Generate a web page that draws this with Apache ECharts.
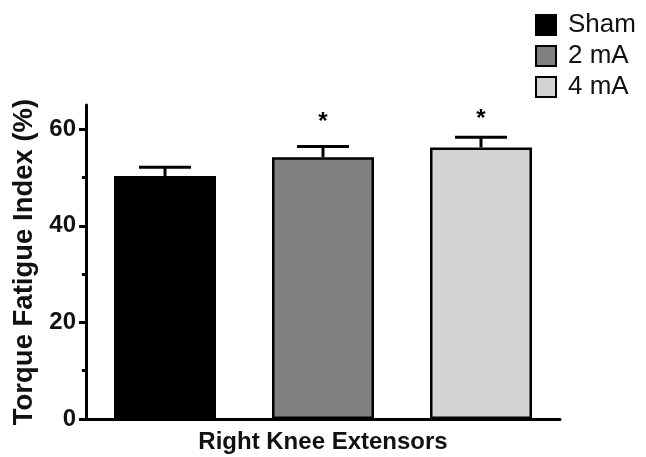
<!DOCTYPE html>
<html><head><meta charset="utf-8">
<script src="https://cdn.jsdelivr.net/npm/echarts@6/dist/echarts.min.js"></script>
<style>html,body{margin:0;padding:0;background:#fff}#c{width:646px;height:457px}</style>
</head><body><div id="c"></div>
<script>
const groups = ['Sham', '2 mA', '4 mA'];
const means = [50.3, 54.2, 56.2];
const sems = [1.8, 2.2, 2.1];
const stars = ['', '*', '*'];
const starLevel = [null, 62.2, 62.8];
const category = ['Right Knee Extensors'];
const yTicks = [0, 20, 40, 60];
const yMinorTicks = [10, 30, 50];
const yMax = 65;

const colors = ['#000000', '#808080', '#d3d3d3'];
const FONT = '"Liberation Sans", Arial, sans-serif';

const chart = echarts.init(document.getElementById('c'), null, {renderer: 'canvas'});

const barSeries = groups.map((g, i) => ({
  name: g,
  type: 'bar',
  xAxisIndex: 1,
  yAxisIndex: 0,
  barWidth: 102,
  barGap: '-100%',
  data: groups.map((_, j) => (j === i ? means[i] : '-')),
  itemStyle: {color: colors[i], borderColor: '#000', borderWidth: 2.5},
  emphasis: {disabled: true},
  animation: false
}));

const errSeries = {
  type: 'custom',
  xAxisIndex: 1,
  yAxisIndex: 0,
  animation: false,
  silent: true,
  z: 10,
  data: groups.map((_, i) => [i, means[i], sems[i]]),
  renderItem: function (params, api) {
    const i = api.value(0), m = api.value(1), s = api.value(2);
    const base = api.coord([i, m]);
    const top = api.coord([i, m + s]);
    const half = 26;
    const st = {stroke: '#000', lineWidth: 3};
    const children = [
      {type: 'line', shape: {x1: base[0], y1: base[1], x2: top[0], y2: top[1]}, style: st},
      {type: 'line', shape: {x1: top[0] - half, y1: top[1], x2: top[0] + half, y2: top[1]}, style: st}
    ];
    if (stars[i]) {
      const sp = api.coord([i, starLevel[i]]);
      children.push({type: 'text', style: {text: stars[i], x: sp[0], y: sp[1] + 4, align: 'center', verticalAlign: 'middle', font: 'bold 24px ' + FONT, fill: '#000'}});
    }
    return {type: 'group', children: children};
  }
};

chart.setOption({
  backgroundColor: '#fff',
  animation: false,
  textStyle: {fontFamily: FONT},
  legend: {
    data: groups,
    orient: 'vertical',
    left: 535,
    top: 12,
    padding: 0,
    itemWidth: 20,
    itemHeight: 20,
    itemGap: 5,
    icon: 'rect',
    itemStyle: {borderColor: '#000', borderWidth: 2},
    textStyle: {fontSize: 26, color: '#111', fontFamily: FONT, padding: [0, 0, 0, 7]},
    selectedMode: false
  },
  grid: {left: 86, right: 86, top: 105, bottom: 38, containLabel: false},
  xAxis: [
    {
      type: 'category',
      data: category,
      axisLine: {lineStyle: {color: '#000', width: 3}},
      axisTick: {alignWithLabel: true, length: 8, lineStyle: {color: '#000', width: 3}},
      axisLabel: {fontSize: 24, fontWeight: 'bold', color: '#111', margin: 11, fontFamily: FONT},
      splitLine: {show: false}
    },
    {
      type: 'category',
      data: groups,
      show: false,
      position: 'bottom'
    }
  ],
  yAxis: [
    {
      type: 'value',
      min: 0,
      max: yMax,
      position: 'left',
      name: 'Torque Fatigue Index (%)',
      nameLocation: 'middle',
      nameGap: 43,
      nameTextStyle: {fontSize: 27.5, fontWeight: 'bold', color: '#111', fontFamily: FONT},
      axisLine: {show: true, lineStyle: {color: '#000', width: 3}},
      axisTick: {show: true, length: 7, customValues: yTicks, lineStyle: {color: '#000', width: 3}},
      axisLabel: {customValues: yTicks, fontSize: 24, fontWeight: 'bold', color: '#111', margin: 10, fontFamily: FONT},
      splitLine: {show: false}
    },
    {
      type: 'value',
      min: 0,
      max: yMax,
      position: 'left',
      offset: 0,
      axisLine: {show: false},
      axisTick: {show: true, length: 4, customValues: yMinorTicks, lineStyle: {color: '#000', width: 3}},
      axisLabel: {show: false},
      splitLine: {show: false}
    }
  ],
  series: barSeries.concat([errSeries])
});
</script></body></html>
